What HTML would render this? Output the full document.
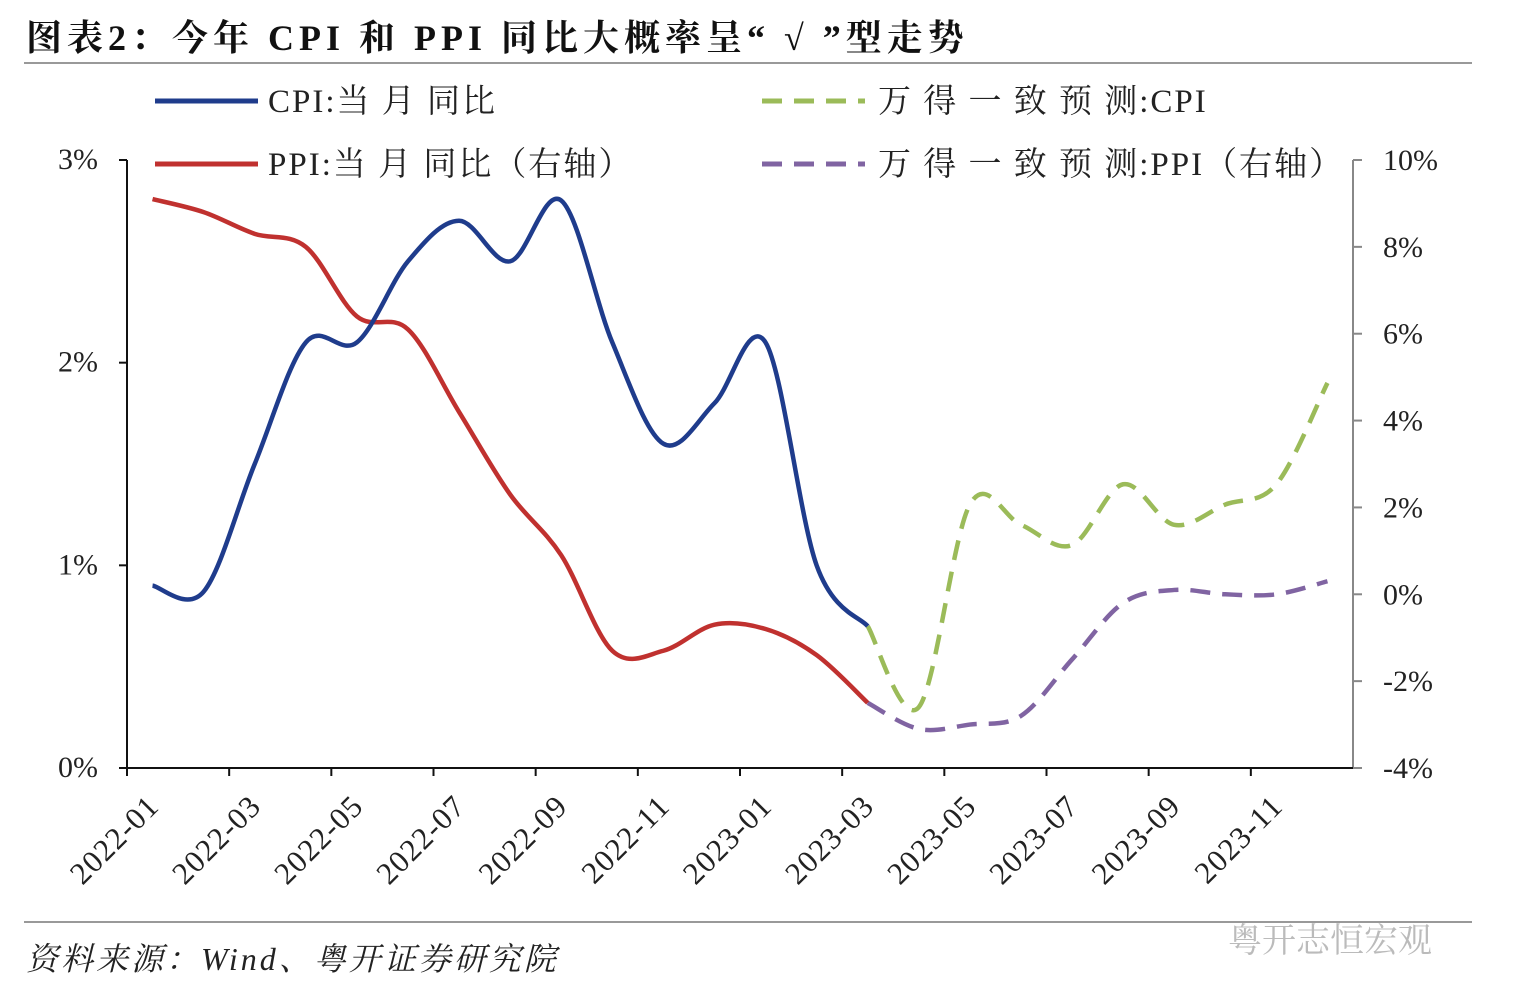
<!DOCTYPE html>
<html><head><meta charset="utf-8">
<style>
body{margin:0;background:#fff;width:1518px;height:992px;overflow:hidden;font-family:"Liberation Serif","Noto Serif CJK SC",serif;}
svg text{font-family:"Liberation Serif","Noto Serif CJK SC",serif;}
</style></head>
<body>
<svg id="chart" width="1518" height="992">
<text x="26" y="50" font-size="36" font-weight="bold" letter-spacing="5" fill="#111">图表2：今年 CPI 和 PPI 同比大概率呈“ √ ”型走势</text>
<line x1="24" y1="63" x2="1472" y2="63" stroke="#999" stroke-width="2"/>
<line x1="24" y1="922" x2="1472" y2="922" stroke="#999" stroke-width="2"/>
<text x="26" y="970" font-size="32" font-style="italic" letter-spacing="3" fill="#222">资料来源：Wind、粤开证券研究院</text>
<text x="1228" y="952" font-size="34" fill="#bbb">粤开志恒宏观</text>
<g id="legend" font-size="33" fill="#222" letter-spacing="2">
<line x1="155" y1="101" x2="258" y2="101" stroke="#1f3c8c" stroke-width="5"/>
<text x="268" y="112">CPI:当 月 同比</text>
<line x1="155" y1="164" x2="258" y2="164" stroke="#c0312f" stroke-width="5"/>
<text x="268" y="175">PPI:当 月 同比（右轴）</text>
<line x1="762" y1="101" x2="865" y2="101" stroke="#9bbb59" stroke-width="5" stroke-dasharray="20,12"/>
<text x="878" y="112">万 得 一 致 预 测:CPI</text>
<line x1="762" y1="164" x2="865" y2="164" stroke="#8064a2" stroke-width="5" stroke-dasharray="20,12"/>
<text x="878" y="175">万 得 一 致 预 测:PPI（右轴）</text>
</g>
</svg>
<script>
const months=["2022-01","2022-02","2022-03","2022-04","2022-05","2022-06","2022-07","2022-08","2022-09","2022-10","2022-11","2022-12","2023-01","2023-02","2023-03","2023-04","2023-05","2023-06","2023-07","2023-08","2023-09","2023-10","2023-11","2023-12"];
const cpiActual=[0.9,0.87,1.5,2.1,2.1,2.5,2.7,2.5,2.8,2.1,1.6,1.8,2.1,1.0,0.7];
const cpiForecast=[null,null,null,null,null,null,null,null,null,null,null,null,null,null,0.7,0.3,1.3,1.2,1.1,1.4,1.2,1.3,1.4,1.9];
const ppiActual=[9.1,8.8,8.3,8.0,6.4,6.1,4.2,2.3,0.9,-1.3,-1.3,-0.7,-0.8,-1.4,-2.5];
const ppiForecast=[null,null,null,null,null,null,null,null,null,null,null,null,null,null,-2.5,-3.1,-3.0,-2.8,-1.5,-0.2,0.1,0.0,0.0,0.3];
const leftTicks=["0%","1%","2%","3%"];
const leftVals=[0,1,2,3];
const rightVals=[-4,-2,0,2,4,6,8,10];
const NS="http://www.w3.org/2000/svg";
const svg=document.getElementById('chart');
const X0=127,X1=1353,T=160,B=768;
const bw=(X1-X0)/months.length;
const xs=i=>X0+bw*(i+0.5);
const yL=v=>B-(v-0)/(3-0)*(B-T);
const yR=v=>B-(v+4)/(14)*(B-T);
function mk(tag,attrs){const e=document.createElementNS(NS,tag);for(const k in attrs)e.setAttribute(k,attrs[k]);svg.appendChild(e);return e;}
let a=mk('line',{x1:X0,y1:T,x2:X0,y2:B,stroke:'#111','stroke-width':2});


a=mk('line',{x1:X1,y1:T,x2:X1,y2:B,stroke:'#888','stroke-width':2});


a=mk('line',{x1:X0,y1:B,x2:X1,y2:B,stroke:'#111','stroke-width':2});


leftVals.forEach((v,i)=>{
 const y=yL(v);
 let t=mk('line',{x1:X0-8,y1:y,x2:X0,y2:y,stroke:'#111','stroke-width':2});
 
 
 let l=mk('text',{x:98,y:y+9,'text-anchor':'end','font-size':30,fill:'#222'});
 l.textContent=leftTicks[i];
 
 
});
rightVals.forEach(v=>{
 const y=yR(v);
 let t=mk('line',{x1:X1,y1:y,x2:X1+9,y2:y,stroke:'#888','stroke-width':2});
 
 
 let l=mk('text',{x:1383,y:y+10,'font-size':30,fill:'#222'});
 l.textContent=v+'%';
 
 
});
months.forEach((m,i)=>{
 if(i%2===0){
  const x=X0+bw*i;
  let t=mk('line',{x1:x,y1:B,x2:x,y2:B+8,stroke:'#111','stroke-width':2});
  
  
  const cx=xs(i)+8, cy=B+40;
  let l=mk('text',{x:cx,y:cy,'text-anchor':'end','font-size':31,'letter-spacing':1,fill:'#222',transform:`rotate(-45 ${cx} ${cy})`});
  l.textContent=m;
  
  
 }
});
function path(vals,yf){
 const p=[];vals.forEach((v,i)=>{if(v!==null&&v!==undefined)p.push([xs(i),yf(v)]);});
 let d=`M${p[0][0]},${p[0][1]}`;
 for(let i=0;i<p.length-1;i++){
  const p0=p[i-1]||p[i],p1=p[i],p2=p[i+1],p3=p[i+2]||p2;
  const c1=[p1[0]+(p2[0]-p0[0])/6,p1[1]+(p2[1]-p0[1])/6];
  const c2=[p2[0]-(p3[0]-p1[0])/6,p2[1]-(p3[1]-p1[1])/6];
  d+=` C${c1[0]},${c1[1]} ${c2[0]},${c2[1]} ${p2[0]},${p2[1]}`;
 }
 return d;
}
let s=mk('path',{d:path(cpiForecast,yL),fill:'none',stroke:'#9bbb59','stroke-width':4.5,'stroke-dasharray':'20,12'});


s=mk('path',{d:path(ppiForecast,yR),fill:'none',stroke:'#8064a2','stroke-width':4.5,'stroke-dasharray':'20,12'});


s=mk('path',{d:path(ppiActual,yR),fill:'none',stroke:'#c0312f','stroke-width':4.5});


s=mk('path',{d:path(cpiActual,yL),fill:'none',stroke:'#1f3c8c','stroke-width':4.5});


</script>
</body></html>
